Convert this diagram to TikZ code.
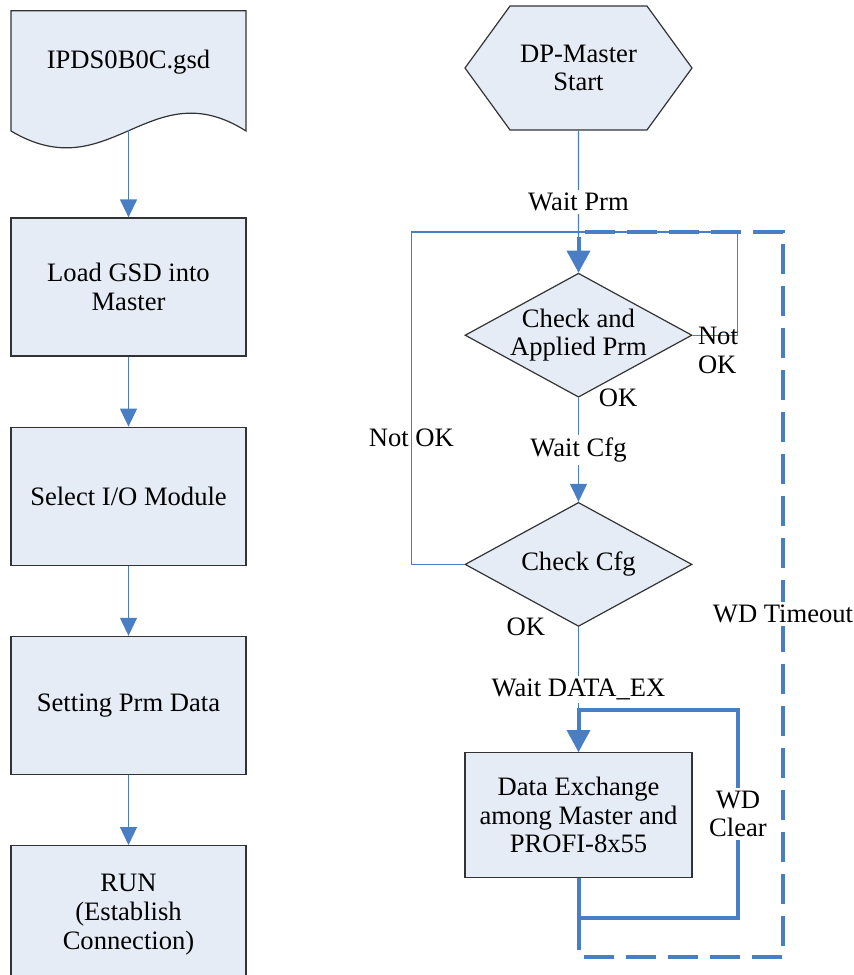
\documentclass[tikz,border=0pt]{standalone}
\usepackage{fontspec}
\setmainfont{Liberation Serif}
\usetikzlibrary{arrows.meta,positioning,shapes.geometric,shapes.symbols}
\definecolor{boxfill}{RGB}{230,236,246}
\definecolor{flowblue}{RGB}{74,126,196}
\tikzset{
  procbox/.style={rectangle,draw=black!80,fill=boxfill,line width=0.6pt,minimum width=117.5pt,minimum height=69pt,align=center,inner sep=0pt},
  startnode/.style={signal,signal to=west and east,signal pointer angle=108,draw=black!80,fill=boxfill,line width=0.6pt,minimum width=113.5pt,minimum height=62pt,align=center,inner sep=0pt},
  decnode/.style={diamond,aspect=1.83,draw=black!80,fill=boxfill,line width=0.6pt,minimum width=113.5pt,minimum height=62pt,align=center,inner sep=-4pt},
  flow/.style={draw=flowblue,line width=0.6pt},
  thinarrow/.style={-{Triangle[length=9pt,width=8.5pt]}},
  wdloop/.style={draw=flowblue,line width=2pt,-{Triangle[length=11pt,width=11.5pt]}},
  lbl/.style={fill=white,inner sep=1.5pt,align=center}
}

\begin{document}
\begin{tikzpicture}[x=0.5pt,y=-0.5pt,font=\fontsize{13.3}{14.3}\selectfont,node distance=35pt]
  \path[use as bounding box,clip] (0,0) rectangle (854,975);
  \draw[draw=black!80,fill=boxfill,line width=0.6pt] (11,131) -- (11,10.7) -- (246,10.7) -- (246,131)
    .. controls (150,70) and (110,190) .. (11,131) -- cycle;
  \node (gsd) at (128.5,62) {IPDS0B0C.gsd};
  \coordinate (gsdout) at (128.5,130);
  \node[procbox] (load) at (128.5,287) {Load GSD into\\Master};
  \node[procbox,below=of load] (sel) {Select I/O Module};
  \node[procbox,below=of sel] (prm) {Setting Prm Data};
  \node[procbox,below=of prm] (run) {RUN\\(Establish\\Connection)};
  \draw[flow,thinarrow] (gsdout) -- (load.north);
  \foreach \a/\b in {load/sel,sel/prm,prm/run}
    \draw[flow,thinarrow] (\a) -- (\b);

  \node[startnode] (start) at (578.5,68) {DP-Master\\Start};
  \node[decnode,below=71pt of start] (chkprm) {Check and\\Applied Prm};
  \node[decnode,below=52pt of chkprm] (chkcfg) {Check Cfg};
  \node[procbox,minimum width=113.5pt,minimum height=62.5pt,below=62.5pt of chkcfg] (dx)
    {Data Exchange\\among Master and\\PROFI-8x55};
  \coordinate (jtop) at (578.5,232);
  \coordinate (tend) at (783,957);
  \coordinate (cend) at (738,918);
  \coordinate (ctop) at (738,710);

  \draw[flow,thinarrow] (start) -- node[lbl] {Wait Prm} (chkprm);
  \draw[flow,thinarrow] (chkprm) -- node[lbl] {Wait Cfg} (chkcfg);
  \draw[flow,thinarrow] (chkcfg) -- node[lbl] {Wait DATA\_EX} (dx);
  \draw[flow] (chkprm.east) -- ++(45,0) |- (jtop);
  \draw[flow] (chkcfg.west) -- ++(-53,0) |- node[pos=0.19,inner sep=0pt] {Not OK} (jtop);
  \node[anchor=west,inner sep=0pt] (okprm) at ([xshift=10pt]chkprm.south) {OK};
  \node[anchor=east,inner sep=0pt] (okcfg) at ([xshift=-16.5pt]chkcfg.south) {OK};
  \node[anchor=west,align=left,inner sep=0pt] (nokprm) at ([shift={(2.5pt,-7.5pt)}]chkprm.east) {Not\\OK};

  \draw[wdloop,dash pattern=on 15pt off 6pt] (dx.south) |- (tend)
    -- node[lbl,pos=0.473] {WD Timeout} (tend |- jtop) -- (jtop) -- (chkprm.north);
  \draw[wdloop] (dx.south) |- (cend) -- node[lbl] {WD\\Clear} (ctop) -| (dx.north);
\end{tikzpicture}
\end{document}
